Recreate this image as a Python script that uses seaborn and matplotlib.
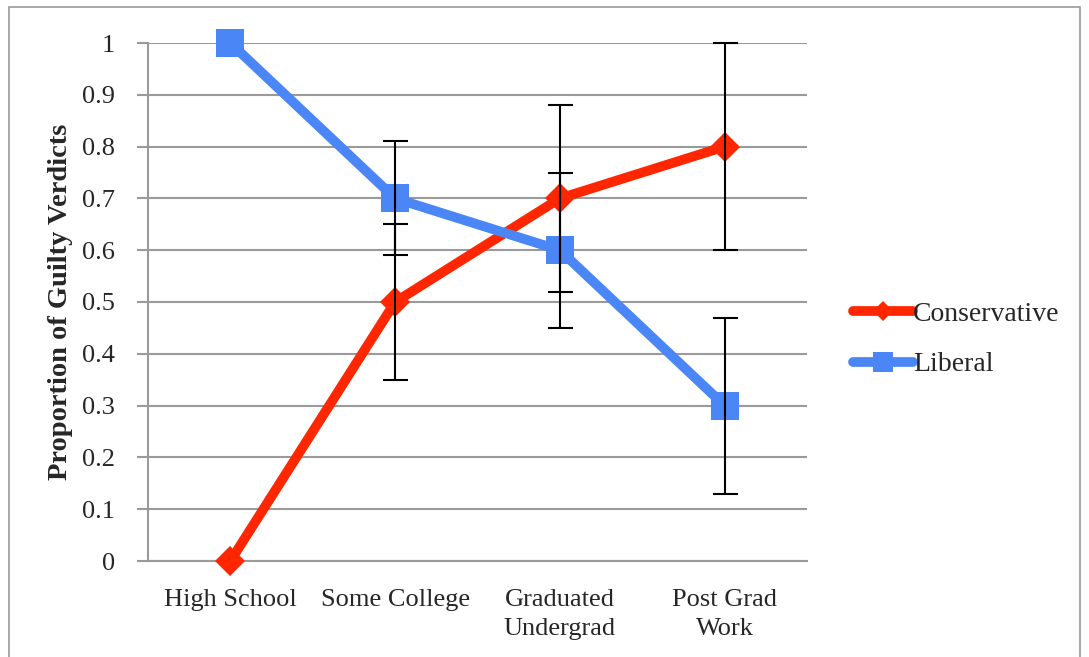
import matplotlib
matplotlib.use("Agg")
import matplotlib.pyplot as plt
import seaborn as sns
import pandas as pd
import numpy as np
from matplotlib.patches import Rectangle
from matplotlib.ticker import FixedLocator

categories = ["High School", "Some College", "Graduated\nUndergrad", "Post Grad\nWork"]
conservative = [0.0, 0.5, 0.7, 0.8]
conservative_err = [0.0, 0.15, 0.18, 0.2]
liberal = [1.0, 0.7, 0.6, 0.3]
liberal_err = [0.0, 0.11, 0.15, 0.17]
series_names = ["Conservative", "Liberal"]
y_ticks = [0, 0.1, 0.2, 0.3, 0.4, 0.5, 0.6, 0.7, 0.8, 0.9, 1]

RED = "#FF2600"
BLUE = "#4A86F5"

sns.set_style("white")
plt.rcParams["font.family"] = ["Liberation Serif", "DejaVu Serif"]

df = pd.DataFrame({
    "Education": categories * 2,
    "Proportion": conservative + liberal,
    "Group": [series_names[0]] * 4 + [series_names[1]] * 4,
})

fig = plt.figure(figsize=(10.89, 6.57), dpi=100)
ax = fig.add_axes([148 / 1089, 1 - 561 / 657, (807 - 148) / 1089, (561 - 43) / 657])

# outer frame
fig.patches.append(Rectangle((9 / 1089, -0.05), (1080 - 9) / 1089, 1 - 7 / 657 + 0.05,
                             transform=fig.transFigure, fill=False,
                             edgecolor="#9a9a9a", linewidth=1.2))

sns.lineplot(data=df, x="Education", y="Proportion", hue="Group", style="Group",
             palette={series_names[0]: RED, series_names[1]: BLUE},
             markers={series_names[0]: "D", series_names[1]: "s"},
             dashes=False, linewidth=7, ax=ax, sort=False, zorder=3,
             markeredgewidth=0)
for line, ms in zip(ax.get_lines(), [15, 20]):
    line.set_markersize(ms)
    line.set_clip_on(False)

# error bars
for vals, errs in [(conservative, conservative_err), (liberal, liberal_err)]:
    idx = [i for i, e in enumerate(errs) if e > 0]
    eb = ax.errorbar([categories[i] for i in idx], [vals[i] for i in idx],
                     yerr=[errs[i] for i in idx], fmt="none", ecolor="black",
                     elinewidth=1.5, capsize=9, capthick=1.5, zorder=4)
    for art in eb.lines[1] + eb.lines[2]:
        art.set_clip_on(False)

ax.set_xlim(-0.5, 3.5)
ax.set_ylim(0, 1)
ax.set_yticks(y_ticks)
ax.set_yticklabels([f"{t:g}" for t in y_ticks])
ax.yaxis.grid(True, color="#9a9a9a", linewidth=1.5)
ax.set_axisbelow(True)
for s in ["top", "right"]:
    ax.spines[s].set_visible(False)
for s in ["left", "bottom"]:
    ax.spines[s].set_color("#9a9a9a")
    ax.spines[s].set_linewidth(1.5)

ax.xaxis.set_minor_locator(FixedLocator([-0.5, 0.5, 1.5, 2.5, 3.5]))
ax.tick_params(axis="x", which="major", length=0, pad=20, labelsize=19)
ax.tick_params(axis="x", which="minor", length=8, width=1.5, color="#9a9a9a", direction="out")
ax.tick_params(axis="y", which="major", length=8, width=1.5, color="#9a9a9a",
               direction="out", pad=16, labelsize=19, left=True)
for lab in ax.get_xticklabels():
    lab.set_linespacing(1.45)
ax.set_xlabel("")
ax.set_ylabel("Proportion of Guilty Verdicts", fontsize=20.5, fontweight="bold", labelpad=6)

handles, labels = ax.get_legend_handles_labels()
leg = ax.legend(handles, labels, loc="center left", bbox_to_anchor=(1.07, 0.428),
                frameon=False, fontsize=20, handlelength=2.15, handletextpad=0.0,
                labelspacing=0.9, borderaxespad=0, borderpad=0)
for h, ms in zip(leg.legend_handles, [10, 14]):
    h.set_linewidth(7)
    h.set_markersize(ms)
    h.set_solid_capstyle("round")

fig.savefig("out.png", dpi=100)
